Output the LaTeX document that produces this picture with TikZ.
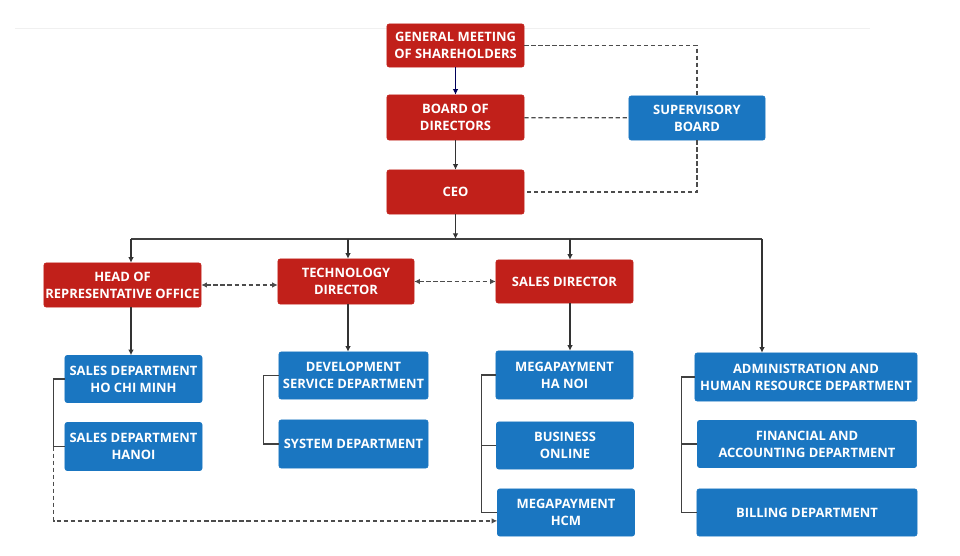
\documentclass[tikz,border=0pt]{standalone}
\usepackage{fontspec}
\setmainfont{Open Sans}
\usetikzlibrary{arrows.meta, positioning}
\definecolor{boxred}{RGB}{193,32,26}
\definecolor{boxblue}{RGB}{26,118,193}
\tikzstyle{redbox} = [rectangle, fill=boxred, draw=boxred, rounded corners=1.5pt, text=white, font=\bfseries\fontsize{9.2}{12}\selectfont, align=center, inner sep=1pt]
\tikzstyle{bluebox} = [rectangle, fill=boxblue, draw=boxblue, rounded corners=1.5pt, text=white, font=\bfseries\fontsize{9.2}{12}\selectfont, align=center, inner sep=1pt]
\tikzstyle{arrow} = [draw=black!80, line width=.8pt, -{Latex[length=4pt,width=4pt]}]
\tikzstyle{line} = [draw=black!75, line width=.8pt]
\tikzstyle{dashline} = [draw=black!70, line width=.9pt, dash pattern=on 3pt off 2pt]

\begin{document}
\begin{tikzpicture}[x=0.025cm, y=-0.025cm]
\useasboundingbox (0,0) rectangle (960,556);
\draw[black!6, line width=.6pt] (15,28) -- (870,28);

% top management
\node[redbox, minimum width=3.425cm, minimum height=1.075cm] (gms) at (455.5,45.5) {GENERAL MEETING\\OF SHAREHOLDERS};
\node[redbox, minimum width=3.425cm, minimum height=1.125cm] (bod) at (455.5,117.5) {BOARD OF\\DIRECTORS};
\node[redbox, minimum width=3.425cm, minimum height=1.1cm] (ceo) at (455.5,192) {CEO};
\node[bluebox, minimum width=3.4cm, minimum height=1.1cm] (sup) at (697,118) {SUPERVISORY\\BOARD};

% directors
\node[redbox, minimum width=3.875cm, minimum height=1.1cm] (hro) at (122.5,285) {HEAD OF\\REPRESENTATIVE OFFICE};
\node[redbox, minimum width=3.4cm, minimum height=1.125cm] (tech) at (346,281.5) {TECHNOLOGY\\DIRECTOR};
\node[redbox, minimum width=3.425cm, minimum height=1.075cm] (sd) at (564.5,281.5) {SALES DIRECTOR};

% departments
\node[bluebox, minimum width=3.425cm, minimum height=1.175cm] (shcm) at (133.5,379) {SALES DEPARTMENT\\HO CHI MINH};
\node[bluebox, minimum width=3.425cm, minimum height=1.2cm] (shan) at (133.5,446.5) {SALES DEPARTMENT\\HANOI};
\node[bluebox, minimum width=3.725cm, minimum height=1.175cm] (dev) at (353.5,375.5) {DEVELOPMENT\\SERVICE DEPARTMENT};
\node[bluebox, minimum width=3.725cm, minimum height=1.2cm] (sys) at (353.5,444) {SYSTEM DEPARTMENT};
\node[bluebox, minimum width=3.425cm, minimum height=1.2cm] (mphn) at (564.5,375) {MEGAPAYMENT\\HA NOI};
\node[bluebox, minimum width=3.425cm, minimum height=1.175cm] (bo) at (565,445.5) {BUSINESS\\ONLINE};
\node[bluebox, minimum width=3.425cm, minimum height=1.175cm] (mphcm) at (566,512.5) {MEGAPAYMENT\\HCM};
\node[bluebox, minimum width=5.55cm, minimum height=1.2cm] (adm) at (806,377) {ADMINISTRATION AND\\HUMAN RESOURCE DEPARTMENT};
\node[bluebox, minimum width=5.475cm, minimum height=1.175cm] (fin) at (807,444) {FINANCIAL AND\\ACCOUNTING DEPARTMENT};
\node[bluebox, minimum width=5.5cm, minimum height=1.175cm] (bill) at (807,512.5) {BILLING DEPARTMENT};

% arrows top
\draw[arrow, draw=blue!35!black] (gms) -- (bod);
\draw[arrow] (bod) -- (ceo);
\draw[dashline] (gms.east) -| (sup.north);
\draw[dashline] (bod) -- (sup);
\draw[dashline] (sup.south) |- (ceo.east);

% bus to directors
\coordinate (d1) at (131,239);
\coordinate (d2) at (348,239);
\coordinate (d3) at (570,239);
\coordinate (d4) at (762,239);
\draw[arrow] (ceo) -- (ceo.south |- d1);
\draw[line] (d1) -- (d4);
\draw[arrow] (d1) -- (d1 |- hro.north);
\draw[arrow] (d2) -- (d2 |- tech.north);
\draw[arrow] (d3) -- (d3 |- sd.north);
\draw[arrow] (d4) -- (d4 |- adm.north);
\draw[dashline, {Latex[length=4pt,width=4pt]}-{Latex[length=4pt,width=4pt]}] (hro.east) -- (hro.east -| tech.west);
\draw[dashline, {Latex[length=4pt,width=4pt]}-{Latex[length=4pt,width=4pt]}] (tech) -- (sd);

% directors to departments
\draw[arrow] (hro.south -| d1) -- (d1 |- shcm.north);
\draw[arrow] (tech.south -| d2) -- (d2 |- dev.north);
\draw[arrow] (sd.south -| d3) -- (d3 |- mphn.north);
\draw[line] (shcm.west) -- ++(-11,0) |- (shan.west);
\draw[line] (dev.west) -- ++(-15,0) |- (sys.west);
\draw[line] (mphn.west) -- ++(-14,0) |- (mphcm.west);
\draw[line] (bo.west) -- ++(-15,0);
\draw[line] (adm.west) -- ++(-13,0) |- (bill.west);
\draw[line] (fin.west) -- ++(-16,0);
\draw[dashline, -{Latex[length=4pt,width=4pt]}] (shan.west) ++(-11,0) |- ([yshift=-0.21cm]mphcm.west);
\end{tikzpicture}
\end{document}
